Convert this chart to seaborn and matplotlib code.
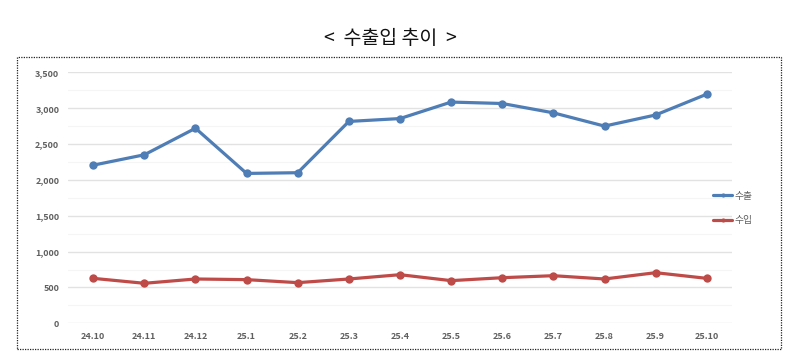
import numpy as np
import pandas as pd
import matplotlib
matplotlib.use("Agg")
import matplotlib.pyplot as plt
from matplotlib.patches import Rectangle
from matplotlib.ticker import FuncFormatter, MultipleLocator
import seaborn as sns

# data
months = ["24.10", "24.11", "24.12", "25.1", "25.2", "25.3", "25.4",
          "25.5", "25.6", "25.7", "25.8", "25.9", "25.10"]
exports = [2205, 2350, 2720, 2090, 2100, 2815, 2855, 3085, 3065, 2935, 2750, 2905, 3195]
imports = [627, 558, 618, 609, 567, 618, 678, 595, 636, 664, 618, 706, 627]

df = pd.DataFrame({
    "month": months * 2,
    "x": list(range(len(months))) * 2,
    "value": exports + imports,
    "kind": ["수출"] * len(months) + ["수입"] * len(months),
})

sns.set_style("white")
plt.rcParams["font.family"] = ["Noto Sans CJK KR", "DejaVu Sans"]

fig = plt.figure(figsize=(7.96, 3.61), dpi=100)
ax = fig.add_axes([0.085, 0.1044, 0.835, 0.6953])

palette = {"수출": "#4F7DB5", "수입": "#BE4B48"}
sns.lineplot(data=df, x="x", y="value", hue="kind", palette=palette, ax=ax,
             marker="o", markersize=6, markeredgewidth=0, linewidth=2.3)

ax.set_xlim(-0.5, len(months) - 0.5)
ax.set_ylim(0, 3500)
ax.set_xticks(range(len(months)))
ax.set_xticklabels(months)
ax.yaxis.set_major_locator(MultipleLocator(500))
ax.yaxis.set_minor_locator(MultipleLocator(250))
ax.yaxis.set_major_formatter(FuncFormatter(lambda v, p: f"{int(v):,}"))
ax.grid(axis="y", which="major", color="#E2E2E2", linewidth=1)
ax.grid(axis="y", which="minor", color="#F5F5F5", linewidth=0.8)
ax.set_axisbelow(True)
for s in ax.spines.values():
    s.set_visible(False)
ax.tick_params(axis="both", which="both", length=0, labelsize=6.5,
               labelcolor="#606060", pad=6)
for lbl in ax.get_xticklabels() + ax.get_yticklabels():
    lbl.set_fontweight("bold")
ax.set_xlabel("")
ax.set_ylabel("")

leg = ax.legend(loc="center left", bbox_to_anchor=(0.965, 0.459), frameon=False,
                fontsize=7, handlelength=2.0, handletextpad=0.2, labelspacing=1.5,
                markerscale=0.5, borderaxespad=0)
for t in leg.get_texts():
    t.set_color("#606060")

# dotted frame around the chart
fig.patches.append(Rectangle((0.0214, 0.0332), 0.96, 0.809, transform=fig.transFigure,
                             fill=False, edgecolor="#222222", linestyle=(0, (1, 1)),
                             linewidth=0.9))

fig.text(0.49, 0.893, "<  수출입 추이  >", ha="center", va="center", fontsize=14,
         color="#111111")

fig.savefig("out.png", dpi=100)
